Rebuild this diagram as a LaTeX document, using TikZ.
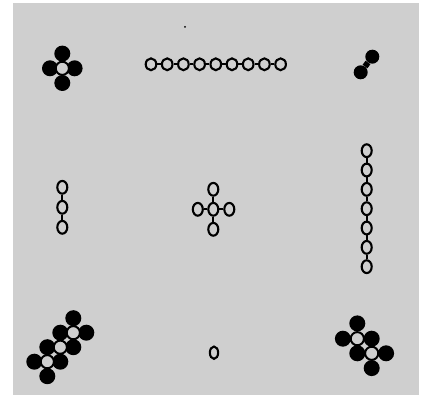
\documentclass[tikz,border=0pt]{standalone}
\usetikzlibrary{shapes.geometric}
\begin{document}
\begin{tikzpicture}[x=1pt,y=-1pt,
 ring/.style={draw=black, line width=2.1pt, ellipse, inner sep=0pt, minimum width=10.6pt, minimum height=11.8pt},
 vring/.style={ring, minimum width=10pt, minimum height=12.8pt},
 blob/.style={circle, fill=black, inner sep=0pt, minimum size=16pt},
 hole/.style={circle, draw=black, fill=bg, line width=2pt, inner sep=0pt, minimum size=13.2pt},
 link/.style={line width=2pt},
 thick link/.style={line width=6pt}]
\definecolor{bg}{gray}{0.81}
\useasboundingbox (0,0) rectangle (423,398);
\fill[white] (0,0) rectangle (423,398);
\fill[bg] (13,3) rectangle (419,395);

% top-left cluster
\begin{scope}[shift={(62.3,68.3)}]
 \node[blob] (tlu) at (0,-14.7) {};
 \node[blob] (tld) at (0,14.7) {};
 \node[blob] (tll) at (-12.3,0) {};
 \node[blob] (tlr) at (12.3,0) {};
 \node[hole] (tlc) at (0,0) {};
\end{scope}

% top horizontal chain
\foreach \i in {0,...,8} \node[ring] (h\i) at ({151+16.2*\i},64.3) {};
\foreach \i [count=\j] in {0,...,7} \draw[link] (h\i) -- (h\j);

% top-right pair
\node[blob, minimum size=14pt] (p1) at (372.3,56.7) {};
\node[blob, minimum size=14pt] (p2) at (360.7,72.3) {};
\draw[thick link] (p1) -- (p2);

% speck
\node[circle, fill=black, inner sep=0pt, minimum size=2pt] (speck) at (185,27) {};

% left vertical chain
\foreach \i in {0,1,2} \node[vring] (l\i) at (62.3,{187.3+20*\i}) {};
\foreach \i [count=\j] in {0,1} \draw[link] (l\i) -- (l\j);

% centre cross
\node[vring] (cc) at (213.3,209.3) {};
\node[vring] (cu) at (213.3,189.3) {};
\node[vring] (cd) at (213.3,229.3) {};
\node[vring] (cl) at (197.8,209.3) {};
\node[vring] (cr) at (229.3,209.3) {};
\foreach \n in {cu,cd,cl,cr} \draw[link] (cc) -- (\n);

% right vertical chain
\foreach \i in {0,...,6} \node[vring] (r\i) at (366.7,{150.7+19.33*\i}) {};
\foreach \i [count=\j] in {0,...,5} \draw[link] (r\i) -- (r\j);

% bottom-left cluster
\begin{scope}[shift={(73.3,332.7)}]
 \node[blob] (bla) at (0,-14.5) {};
 \node[blob] (blb) at (13,0) {};
 \node[blob] (blc) at (-13,0) {};
 \node[blob] (bld) at (0,14.5) {};
 \node[blob] (ble) at (-26,14.5) {};
 \node[blob] (blf) at (-13,29) {};
 \node[blob] (blg) at (-39,29) {};
 \node[blob] (blh) at (-26,43.5) {};
 \node[hole] (blw1) at (0,0) {};
 \node[hole] (blw2) at (-13,14.5) {};
 \node[hole] (blw3) at (-26,29) {};
\end{scope}

% bottom centre single ring
\node[ring, minimum width=8.3pt, minimum height=12.3pt] (single) at (214,352.7) {};

% bottom-right cluster
\begin{scope}[shift={(357.3,338.7)}]
 \node[blob] (bra) at (0,-15.3) {};
 \node[blob] (brb) at (-14.4,0) {};
 \node[blob] (brc) at (14.4,0) {};
 \node[blob] (brd) at (0,14.6) {};
 \node[blob] (bre) at (28.8,14.6) {};
 \node[blob] (brf) at (14.4,29.4) {};
 \node[hole] (brw1) at (0,0) {};
 \node[hole] (brw2) at (14.4,14.6) {};
\end{scope}
\end{tikzpicture}
\end{document}
